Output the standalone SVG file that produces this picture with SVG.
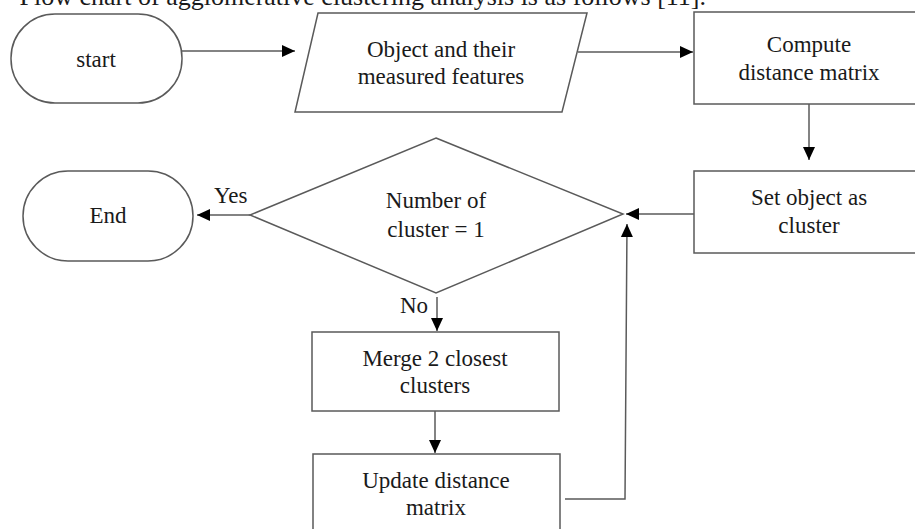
<svg xmlns="http://www.w3.org/2000/svg" width="915" height="529" viewBox="0 0 915 529">
  <defs>
    <style>
      .shape { fill: #ffffff; stroke: #5a5a5a; stroke-width: 1.5; }
      .wire { fill: none; stroke: #5a5a5a; stroke-width: 1.5; }
      text { font-family: "Liberation Serif", "Times New Roman", serif; font-size: 23px; fill: #1a1a1a; }
      .c { text-anchor: middle; }
    </style>
    <marker id="head" markerUnits="userSpaceOnUse" markerWidth="14" markerHeight="14" viewBox="0 0 14 14" refX="13" refY="7" orient="auto">
      <path d="M0,1 L13,7 L0,13 Z" fill="#000000"/>
    </marker>
  </defs>

  <rect width="915" height="529" fill="#ffffff"/>

  <!-- running text line above the chart -->
  <text x="706" y="5" text-anchor="end" style="font-size:26px">Flow chart of agglomerative clustering analysis is as follows [11].</text>

  <g id="start">
    <rect class="shape" x="11" y="14" width="171" height="89" rx="44" ry="44"/>
    <text class="c" x="96" y="67">start</text>
  </g>

  <g id="input">
    <polygon class="shape" points="318,13 587,13 562,112 295,112"/>
    <text class="c" x="441" y="57">Object and their</text>
    <text class="c" x="441" y="84">measured features</text>
  </g>

  <g id="compute">
    <rect class="shape" x="694" y="12" width="240" height="92"/>
    <text class="c" x="809" y="52">Compute</text>
    <text class="c" x="809" y="80">distance matrix</text>
  </g>

  <g id="set">
    <rect class="shape" x="694" y="171" width="240" height="82"/>
    <text class="c" x="809" y="205">Set object as</text>
    <text class="c" x="809" y="233">cluster</text>
  </g>

  <g id="decision">
    <polygon class="shape" points="436,138 623,214 436,293 250,215"/>
    <text class="c" x="436" y="208">Number of</text>
    <text class="c" x="436" y="237">cluster = 1</text>
  </g>

  <g id="end">
    <rect class="shape" x="23" y="171" width="170" height="90" rx="45" ry="45"/>
    <text class="c" x="108" y="223">End</text>
  </g>

  <g id="merge">
    <rect class="shape" x="312" y="332" width="247" height="79"/>
    <text class="c" x="435" y="366">Merge 2 closest</text>
    <text class="c" x="435" y="393">clusters</text>
  </g>

  <g id="update">
    <rect class="shape" x="313" y="454" width="247" height="90"/>
    <text class="c" x="436" y="488">Update distance</text>
    <text class="c" x="436" y="515">matrix</text>
  </g>

  <g id="connectors">
    <line class="wire" x1="182" y1="51" x2="295" y2="51" marker-end="url(#head)"/>
    <line class="wire" x1="578" y1="52" x2="693" y2="52" marker-end="url(#head)"/>
    <line class="wire" x1="809" y1="104" x2="809" y2="160" marker-end="url(#head)"/>
    <line class="wire" x1="694" y1="214" x2="626" y2="214" marker-end="url(#head)"/>
    <line class="wire" x1="250" y1="215" x2="197" y2="215" marker-end="url(#head)"/>
    <line class="wire" x1="437" y1="297" x2="437" y2="331" marker-end="url(#head)"/>
    <line class="wire" x1="435" y1="411" x2="435" y2="453" marker-end="url(#head)"/>
    <polyline class="wire" points="565,499 625,499 627,224" marker-end="url(#head)"/>
    <text x="214" y="203">Yes</text>
    <text x="400" y="313">No</text>
  </g>
</svg>
